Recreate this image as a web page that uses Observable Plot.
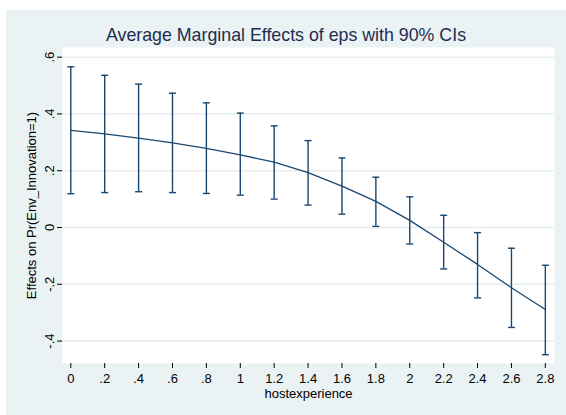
<!DOCTYPE html>
<html>
<head>
<meta charset="utf-8">
<script src="https://cdn.jsdelivr.net/npm/d3@7"></script>
<script src="https://cdn.jsdelivr.net/npm/@observablehq/plot@0.6"></script>
<style>
  html, body { margin: 0; padding: 0; background: #ffffff; }
  #wrap { position: relative; width: 566px; height: 415px; overflow: hidden; }
  #bg { position: absolute; left: 6px; top: 10px; right: 0; bottom: 0; background: #eaf2f3; }
  #title { position: absolute; left: 6px; right: 0; top: 23px; text-align: center;
           font-family: "Liberation Sans", Arial, sans-serif; font-size: 17.8px; color: #1f2d50; line-height: 24px; }
  #chart { position: absolute; left: 0; top: 0; }
</style>
</head>
<body>
<div id="wrap">
  <div id="bg"></div>
  <div id="chart"></div>
  <div id="title">Average Marginal Effects of eps with 90% CIs</div>
</div>
<script>
// Data
const hostexperience = [0, 0.2, 0.4, 0.6, 0.8, 1.0, 1.2, 1.4, 1.6, 1.8, 2.0, 2.2, 2.4, 2.6, 2.8];
const effect = [0.342, 0.330, 0.315, 0.298, 0.279, 0.256, 0.230, 0.193, 0.146, 0.092, 0.025, -0.052, -0.130, -0.212, -0.289];
const ciLower = [0.119, 0.123, 0.126, 0.123, 0.120, 0.114, 0.100, 0.079, 0.047, 0.004, -0.058, -0.146, -0.248, -0.352, -0.448];
const ciUpper = [0.566, 0.536, 0.505, 0.473, 0.439, 0.403, 0.358, 0.306, 0.245, 0.177, 0.108, 0.043, -0.018, -0.073, -0.133];
const xTicks = [0, 0.2, 0.4, 0.6, 0.8, 1, 1.2, 1.4, 1.6, 1.8, 2, 2.2, 2.4, 2.6, 2.8];
const yTicks = [-0.4, -0.2, 0, 0.2, 0.4, 0.6];
const xLabel = "hostexperience";
const yLabel = "Effects on Pr(Env_Innovation=1)";

const data = hostexperience.map((x, i) => ({x, m: effect[i], lo: ciLower[i], hi: ciUpper[i]}));

const fmt = d => {
  const s = String(+(+d).toFixed(2));
  return s.replace(/^0\./, ".").replace(/^-0\./, "-.");
};

const navy = "#1a476f";
const cap = { draw(ctx) { ctx.moveTo(-3.5, 0); ctx.lineTo(3.5, 0); } };

const chart = Plot.plot({
  width: 566,
  height: 415,
  marginLeft: 62,
  marginTop: 47,
  marginRight: 12,
  marginBottom: 52,
  style: { background: "transparent", fontFamily: "'Liberation Sans', Arial, sans-serif", fontSize: "13px", color: "#000" },
  x: { domain: [-0.049, 2.854] },
  y: { domain: [-0.479, 0.634] },
  marks: [
    Plot.frame({ fill: "white", stroke: null }),
    Plot.gridY(yTicks, { stroke: "#e6eef0", strokeOpacity: 1, strokeWidth: 1.5 }),
    Plot.axisX(xTicks, { tickSize: 5, tickPadding: 5, line: true, stroke: "#000", strokeOpacity: 1, tickFormat: fmt,
      label: xLabel, labelAnchor: "center", labelArrow: "none", labelOffset: 34 }),
    Plot.axisY(yTicks, { tickSize: 5, line: true, stroke: "#000", strokeOpacity: 1, tickFormat: () => "",
      label: yLabel, labelAnchor: "center", labelArrow: "none", labelOffset: 36 }),
    Plot.text(yTicks, { y: d => d, text: fmt, frameAnchor: "left", dx: -13, rotate: -90,
      textAnchor: "middle", lineAnchor: "middle", fill: "#000", fontSize: 13 }),
    Plot.ruleX(data, { x: "x", y1: "lo", y2: "hi", stroke: navy, strokeWidth: 1.4 }),
    Plot.dot(data, { x: "x", y: "lo", symbol: cap, stroke: navy, strokeWidth: 1.4, r: 3 }),
    Plot.dot(data, { x: "x", y: "hi", symbol: cap, stroke: navy, strokeWidth: 1.4, r: 3 }),
    Plot.line(data, { x: "x", y: "m", stroke: navy, strokeWidth: 1.3 })
  ]
});
document.getElementById("chart").appendChild(chart);
</script>
</body>
</html>
